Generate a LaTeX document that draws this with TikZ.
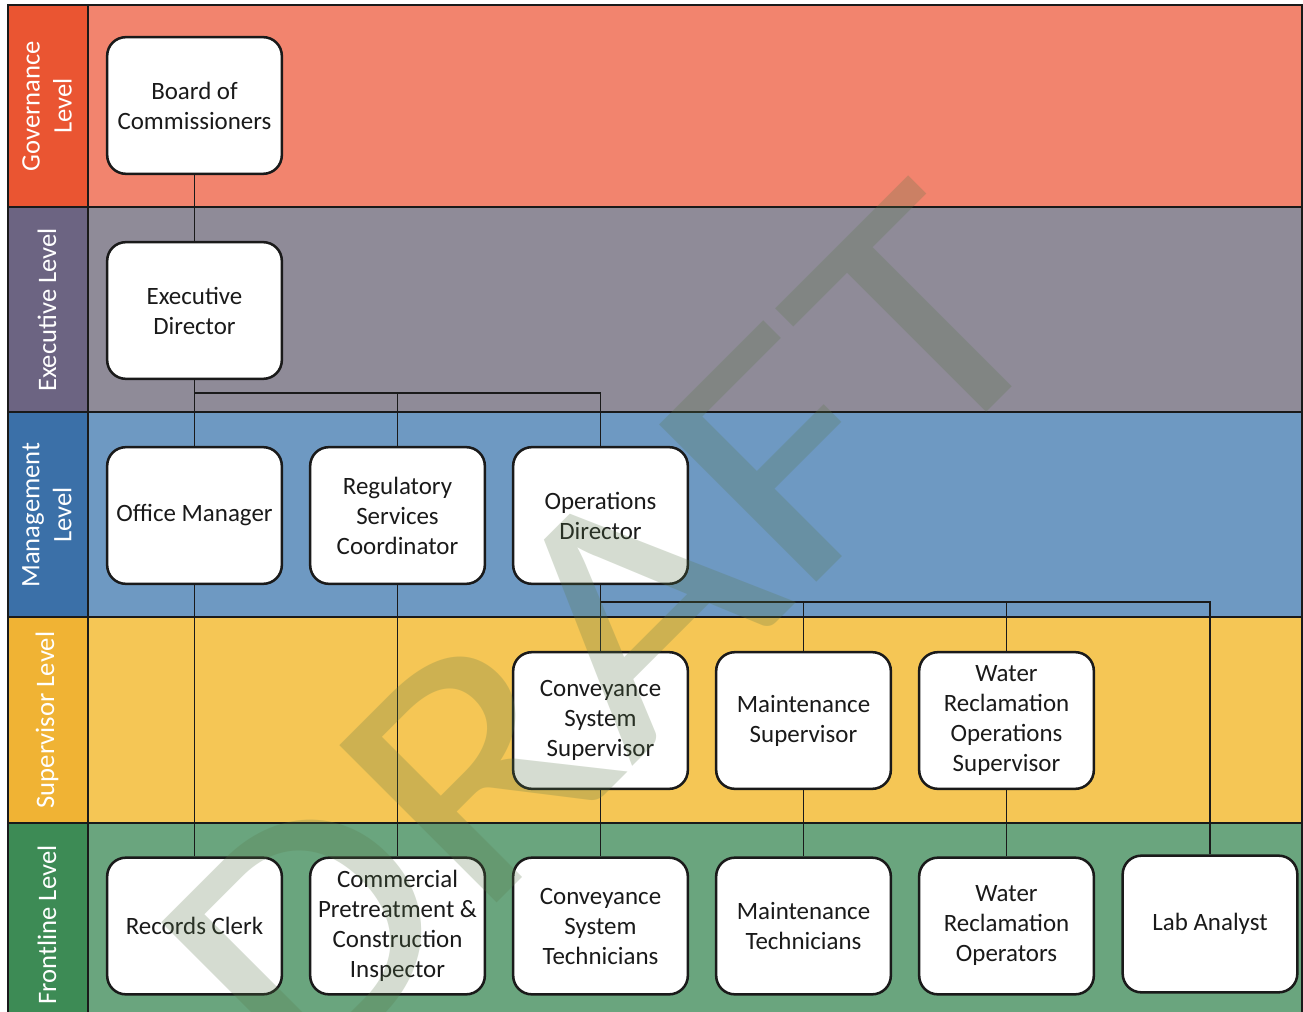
\documentclass[tikz,border=0pt]{standalone}
\usepackage{fontspec}
\setmainfont{Carlito}
\definecolor{govL}{HTML}{EA5532}
\definecolor{govB}{HTML}{F2846E}
\definecolor{exeL}{HTML}{6C6482}
\definecolor{exeB}{HTML}{8F8B98}
\definecolor{manL}{HTML}{3B70A8}
\definecolor{manB}{HTML}{6E99C2}
\definecolor{supL}{HTML}{F0B334}
\definecolor{supB}{HTML}{F5C655}
\definecolor{froL}{HTML}{3D8B55}
\definecolor{froB}{HTML}{6AA57E}
\definecolor{wm}{RGB}{88,118,72}
\definecolor{ink}{HTML}{1A1A1A}
\begin{document}
\begin{tikzpicture}[x=0.75pt,y=-0.75pt,
  box/.style={draw=ink, line width=1.9pt, fill=white, rounded corners=14pt,
    minimum width=131pt, minimum height=102.5pt, align=center, inner sep=2pt,
    text=ink, font=\fontsize{18.7}{22.5}\selectfont},
  lvl/.style={rotate=90, align=center, text=white, font=\fontsize{20}{24}\selectfont},
  conn/.style={draw=ink, line width=1.1pt},
  sep/.style={draw=ink, line width=1.3pt}]
\useasboundingbox (0,0) rectangle (1303,1012);
\fill[white] (0,0) rectangle (1303,1012);
% bands
\fill[govB] (88,5) rectangle (1302,207);
\fill[exeB] (88,207) rectangle (1302,412);
\fill[manB] (88,412) rectangle (1302,617);
\fill[supB] (88,617) rectangle (1302,823);
\fill[froB] (88,823) rectangle (1302,1012);
\fill[govL] (8,5) rectangle (88,207);
\fill[exeL] (8,207) rectangle (88,412);
\fill[manL] (8,412) rectangle (88,617);
\fill[supL] (8,617) rectangle (88,823);
\fill[froL] (8,823) rectangle (88,1012);
\draw[sep] (8,1012) -- (8,5) -- (1302,5) -- (1302,1012);
\draw[sep] (88,5) -- (88,1012);
\draw[sep] (8,207) -- (1302,207);
\draw[sep] (8,412) -- (1302,412);
\draw[sep] (8,617) -- (1302,617);
\draw[sep] (8,823) -- (1302,823);
% level labels
\node[lvl] (lgov) at (47,106) {Governance\\Level};
\node[lvl] (lexe) at (47,310) {Executive Level};
\node[lvl] (lman) at (47,515) {Management\\Level};
\node[lvl] (lsup) at (47,720) {Supervisor Level};
\node[lvl] (lfro) at (47,925) {Frontline Level};
% boxes
\node[box] (board) at (194.5,105.5) {Board of\\Commissioners};
\node[box] (exec) at (194.5,310.5) {Executive\\Director};
\node[box] (office) at (194.5,515.5) {Office Manager};
\node[box] (reg) at (397.5,515.5) {Regulatory\\Services\\Coordinator};
\node[box] (ops) at (600.5,515.5) {Operations\\Director};
\node[box] (convsup) at (600.5,720.5) {Conveyance\\System\\Supervisor};
\node[box] (maintsup) at (803.5,720.5) {Maintenance\\Supervisor};
\node[box] (wrsup) at (1006.5,720.5) {Water\\Reclamation\\Operations\\Supervisor};
\node[box] (records) at (194.5,926) {Records Clerk};
\node[box] (comm) at (397.5,926) {Commercial\\Pretreatment \&\\Construction\\Inspector};
\node[box] (convtech) at (600.5,926) {Conveyance\\System\\Technicians};
\node[box] (mainttech) at (803.5,926) {Maintenance\\Technicians};
\node[box] (wrop) at (1006.5,926) {Water\\Reclamation\\Operators};
\node[box] (lab) at (1210,924) {Lab Analyst};
% connectors
\coordinate (bus1) at (0,393);
\coordinate (bus2) at (0,602);
\draw[conn] (board.south) -- (exec.north);
\draw[conn] (exec.south) -- (office.north);
\draw[conn] (exec.south |- bus1) -| (reg.north);
\draw[conn] (exec.south |- bus1) -| (ops.north);
\draw[conn] (ops.south) -- (convsup.north);
\draw[conn] (ops.south |- bus2) -| (maintsup.north);
\draw[conn] (ops.south |- bus2) -| (wrsup.north);
\draw[conn] (ops.south |- bus2) -| (lab.north);
\draw[conn] (office.south) -- (records.north);
\draw[conn] (reg.south) -- (comm.north);
\draw[conn] (convsup.south) -- (convtech.north);
\draw[conn] (maintsup.south) -- (mainttech.north);
\draw[conn] (wrsup.south) -- (wrop.north);
% watermark
\begin{scope}
\clip (8,5) rectangle (1302,1012);
\node[rotate=45, text=wm, opacity=0.25, inner sep=0pt,
  font=\fontsize{260}{260}\selectfont] (draft) at (606,636) {\scalebox{1.17}[1]{DRAFT}};
\end{scope}
\end{tikzpicture}
\end{document}
